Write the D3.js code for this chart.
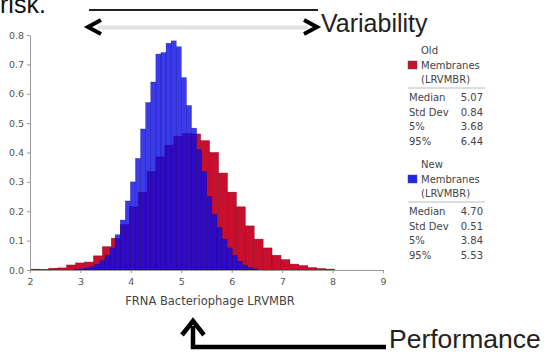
<!DOCTYPE html>
<html>
<head>
<meta charset="utf-8">
<script src="https://cdn.jsdelivr.net/npm/d3@7"></script>
<style>
  body { margin: 0; background: #fff; }
  svg text { font-family: "DejaVu Sans", Verdana, sans-serif; }
</style>
</head>
<body>
<div id="chart"></div>
<script>
// histogram data (density per bin)
var oldStart = 2.02, oldWidth = 0.177;
var oldDensity = [0.003, 0.002, 0.006, 0.007, 0.017, 0.024, 0.027, 0.048, 0.079, 0.108,
  0.155, 0.215, 0.265, 0.335, 0.385, 0.425, 0.455, 0.465, 0.463,
  0.44, 0.40, 0.33, 0.265, 0.215, 0.15, 0.105, 0.075, 0.05, 0.035, 0.02, 0.015, 0.008, 0.005, 0.003];

var newStart = 2.88, newWidth = 0.101;
var newDensity = [0.002, 0.004, 0.007, 0.012, 0.02, 0.032, 0.05, 0.075, 0.12, 0.17,
  0.235, 0.30, 0.38, 0.48, 0.57, 0.64, 0.735, 0.74, 0.772, 0.78, 0.76, 0.655, 0.56, 0.483,
  0.41, 0.335, 0.25, 0.19, 0.145, 0.105, 0.075, 0.05, 0.03, 0.017, 0.008, 0.004];

var xTicks = [2, 3, 4, 5, 6, 7, 8, 9];
var yTicks = [0, 0.1, 0.2, 0.3, 0.4, 0.5, 0.6, 0.7, 0.8];

var statNames = ["Median", "Std Dev", "5%", "95%"];
var oldStats = ["5.07", "0.84", "3.68", "6.44"];
var newStats = ["4.70", "0.51", "3.84", "5.53"];
var seriesLabels = [["Old", "Membranes", "(LRVMBR)"], ["New", "Membranes", "(LRVMBR)"]];

var svgWidth = 550, svgHeight = 354;

var svg = d3.select("#chart")
  .append("svg")
  .attr("width", svgWidth)
  .attr("height", svgHeight);

var x = d3.scaleLinear().domain([2, 9]).range([30, 383]);
var y = d3.scaleLinear().domain([0, 0.8]).range([270, 35]);

// bars: old (red) first, new (blue, see-through) on top
function binData(start, w, vals) {
  return vals.map(function(v, i) { return { x0: start + i * w, x1: start + (i + 1) * w, v: v }; });
}

svg.append("g").selectAll("rect")
  .data(binData(oldStart, oldWidth, oldDensity))
  .enter().append("rect")
  .attr("x", d => x(d.x0))
  .attr("width", d => x(d.x1) - x(d.x0))
  .attr("y", d => y(d.v))
  .attr("height", d => y(0) - y(d.v))
  .attr("fill", "#c8102e")
  .attr("stroke", "#8c0a20")
  .attr("stroke-width", 0.5);

svg.append("g").selectAll("rect")
  .data(binData(newStart, newWidth, newDensity))
  .enter().append("rect")
  .attr("x", d => x(d.x0))
  .attr("width", d => x(d.x1) - x(d.x0))
  .attr("y", d => y(d.v))
  .attr("height", d => y(0) - y(d.v))
  .attr("fill", "#0a0ae8")
  .attr("fill-opacity", 0.8)
  .attr("stroke", "#10107a")
  .attr("stroke-opacity", 0.6)
  .attr("stroke-width", 0.5);

// axes
var xAxis = svg.append("g")
  .attr("transform", "translate(0," + y(0) + ")")
  .call(d3.axisBottom(x).tickValues(xTicks).tickFormat(d3.format("d")).tickSize(3).tickSizeOuter(0));
var yAxis = svg.append("g")
  .attr("transform", "translate(" + x(2) + ",0)")
  .call(d3.axisLeft(y).tickValues(yTicks).tickFormat(d3.format(".1f")).tickSize(3).tickSizeOuter(0));

[xAxis, yAxis].forEach(function(a) {
  a.selectAll("path, line").attr("stroke", "#999");
  a.selectAll("text").attr("fill", "#555").style("font-size", "9.5px");
});
xAxis.selectAll("text").attr("dy", "0.9em");

svg.append("text")
  .attr("x", 210).attr("y", 305)
  .attr("text-anchor", "middle")
  .attr("fill", "#444")
  .style("font-size", "11.5px")
  .text("FRNA Bacteriophage LRVMBR");

// legend
var legendTop = [54, 168];
[[oldStats, "#c8102e"], [newStats, "#2323ee"]].forEach(function(s, k) {
  var top = legendTop[k];
  var g = svg.append("g");
  seriesLabels[k].forEach(function(t, i) {
    g.append("text").attr("x", 421).attr("y", top + i * 14.5)
      .attr("fill", "#444").style("font-size", "10px").text(t);
  });
  g.append("rect").attr("x", 408).attr("y", top + 7).attr("width", 9).attr("height", 8)
    .attr("fill", s[1]).attr("stroke", "#555").attr("stroke-width", 0.5);
  g.append("line").attr("x1", 408).attr("x2", 485)
    .attr("y1", top + 34).attr("y2", top + 34)
    .attr("stroke", "#bbb");
  statNames.forEach(function(n, i) {
    g.append("text").attr("x", 409).attr("y", top + 47 + i * 14.5)
      .attr("fill", "#444").style("font-size", "10px").text(n);
    g.append("text").attr("x", 483).attr("y", top + 47 + i * 14.5)
      .attr("text-anchor", "end")
      .attr("fill", "#444").style("font-size", "10px").text(s[0][i]);
  });
});

// slide annotations
var slideFont = "'Liberation Sans', Arial, sans-serif";
svg.append("text").attr("x", 0).attr("y", 13)
  .style("font-family", slideFont)
  .style("font-size", "25px").attr("fill", "#111").text("risk.");

svg.append("line").attr("x1", 89).attr("x2", 318).attr("y1", 10).attr("y2", 10)
  .attr("stroke", "#222").attr("stroke-width", 2);
svg.append("line").attr("x1", 98).attr("x2", 308).attr("y1", 27.5).attr("y2", 27.5)
  .attr("stroke", "#e2e2e2").attr("stroke-width", 4);
svg.append("path").attr("d", "M101,20 L88,27 L101,34")
  .attr("fill", "none").attr("stroke", "#000").attr("stroke-width", 4);
svg.append("path").attr("d", "M304,20 L317,27 L304,34")
  .attr("fill", "none").attr("stroke", "#000").attr("stroke-width", 4);
svg.append("text").attr("x", 321).attr("y", 32)
  .style("font-family", slideFont)
  .style("font-size", "25px").attr("fill", "#222").text("Variability");

svg.append("path").attr("d", "M193,326 L193,347 L386,347")
  .attr("fill", "none").attr("stroke", "#000").attr("stroke-width", 4.5);
svg.append("path").attr("d", "M182,335 L193,321 L204,335")
  .attr("fill", "none").attr("stroke", "#000").attr("stroke-width", 4.5);
svg.append("text").attr("x", 389).attr("y", 348)
  .style("font-family", slideFont)
  .style("font-size", "26.5px").attr("fill", "#222").text("Performance");
</script>
</body>
</html>
